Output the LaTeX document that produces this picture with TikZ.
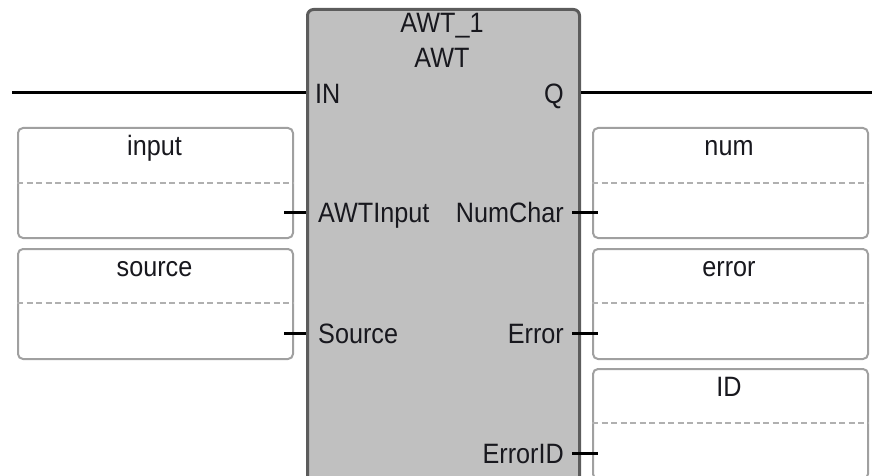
\documentclass[tikz,border=0pt]{standalone}
\usepackage{fontspec}
\setmainfont{Liberation Sans}
\usepackage{graphicx}
\newcommand\sqz[1]{\scalebox{0.9}[1]{#1}}
\definecolor{blkfill}{HTML}{C0C0C0}
\definecolor{blkline}{HTML}{5C5C5C}
\definecolor{boxline}{HTML}{A0A0A0}
\definecolor{dashline}{HTML}{B0B0B0}
\definecolor{txt}{HTML}{18181E}
\tikzset{
  fbblock/.style={draw=blkline, fill=blkfill, line width=3pt, rounded corners=6pt,
    minimum width=272pt, minimum height=500pt, anchor=north west, inner sep=0pt},
  varbox/.style={draw=boxline, fill=white, line width=2pt, rounded corners=5pt,
    minimum width=275pt, minimum height=110pt, anchor=north west, inner sep=0pt},
  lab/.style={font=\fontsize{28pt}{30pt}\selectfont, text=txt, inner sep=0pt},
  pinl/.style={lab, anchor=base west},
  pinr/.style={lab, anchor=base east},
  vname/.style={lab, anchor=base},
  wire/.style={draw=black, line width=3pt},
  sep/.style={draw=dashline, line width=2pt, dash pattern=on 6pt off 3.5pt}
}
\begin{document}
\begin{tikzpicture}[x=1pt,y=-1pt]
\useasboundingbox (0,0) rectangle (872,476);
\clip (0,0) rectangle (872,476);
% function block
\node[fbblock] (blk) at (306,8) {};
\node[vname] (inst) at (442,33) {\sqz{AWT\_1}};
\node[vname] (type) at (442,68) {\sqz{AWT}};
% variable boxes
\node[varbox] (vin) at (17,127) {};
\node[varbox] (vsrc) at (17,248) {};
\node[varbox] (vnum) at (592,127) {};
\node[varbox] (verr) at (592,248) {};
\node[varbox] (vid) at (592,368) {};
\draw[sep] (vin.west |- 0,183) -- (vin.east |- 0,183);
\draw[sep] (vsrc.west |- 0,303) -- (vsrc.east |- 0,303);
\draw[sep] (vnum.west |- 0,183) -- (vnum.east |- 0,183);
\draw[sep] (verr.west |- 0,303) -- (verr.east |- 0,303);
\draw[sep] (vid.west |- 0,423) -- (vid.east |- 0,423);
\node[vname] (tin) at (154.5,155) {\sqz{input}};
\node[vname] (tsrc) at (154.5,276) {\sqz{source}};
\node[vname] (tnum) at (729,155) {\sqz{num}};
\node[vname] (terr) at (729,276) {\sqz{error}};
\node[vname] (tid) at (729,396) {\sqz{ID}};
% pin labels
\node[pinl] (pIN) at (315,103) {\sqz{IN}};
\node[pinl] (pAWT) at (318,222) {\sqz{AWTInput}};
\node[pinl] (pSrc) at (318,343) {\sqz{Source}};
\node[pinr] (pQ) at (564,103) {\sqz{Q}};
\node[pinr] (pNum) at (564,222) {\sqz{NumChar}};
\node[pinr] (pErr) at (564,343) {\sqz{Error}};
\node[pinr] (pEID) at (564,463) {\sqz{ErrorID}};
% wires
\coordinate (railL) at (12,93);
\coordinate (railR) at (872,93);
\draw[wire] (railL) -- (blk.west |- railL);
\draw[wire] (blk.east |- railR) -- (railR);
\draw[wire] (284,212) -- (blk.west |- 0,212);
\draw[wire] (284,333) -- (blk.west |- 0,333);
\draw[wire] (572,212) -- (598,212);
\draw[wire] (572,333) -- (598,333);
\draw[wire] (572,453) -- (598,453);
\end{tikzpicture}
\end{document}
